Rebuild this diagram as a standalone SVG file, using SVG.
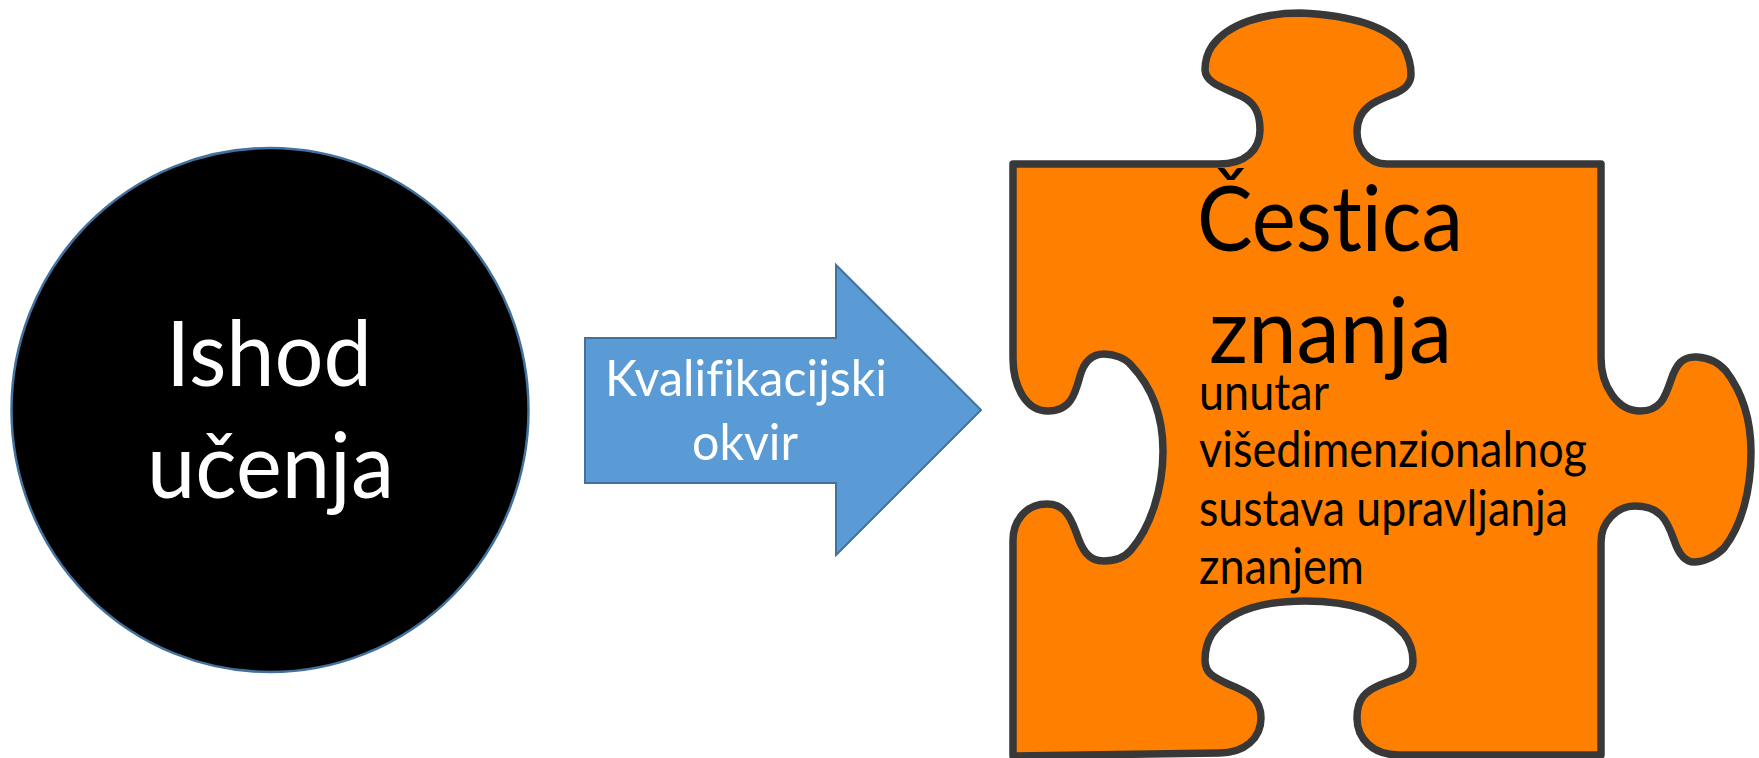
<svg xmlns="http://www.w3.org/2000/svg" width="1759" height="758" viewBox="0 0 1759 758">
<style>
text{font-family:Lato,"Open Sans","Liberation Sans",sans-serif;font-variant-ligatures:none}
.w{fill:#fff}.k{fill:#000}
.big{font-size:92px}.mid{font-size:50px}.piece{font-size:92px}.small{font-size:50px}
</style>
<rect width="1759" height="758" fill="#fff"/>
<g id="ishod">
<ellipse cx="270" cy="410" rx="258.500" ry="262" fill="#000" stroke="#41719c" stroke-width="2.5"/>
<text class="big w" x="166" y="386" textLength="206" lengthAdjust="spacingAndGlyphs">Ishod</text>
<text class="big w" x="147" y="498" textLength="247" lengthAdjust="spacingAndGlyphs">učenja</text>
</g>
<g id="connectors">
<g id="okvir">
<path d="M585 338H836V265L981 410L836 555V483H585Z" fill="#5b9bd5" stroke="#41719c" stroke-width="2"/>
<text class="mid w" x="605" y="396" textLength="282" lengthAdjust="spacingAndGlyphs">Kvalifikacijski</text>
<text class="mid w" x="692" y="460" textLength="106" lengthAdjust="spacingAndGlyphs">okvir</text>
</g>
</g>
<g id="cestica">
<path d="M1013 164H1219C1245 164 1260 150 1260 130C1260 112 1254 103 1243 97C1225 88 1206 84 1205 70C1205 60 1208 52 1212 46C1228 24 1262 13 1300 13C1345 15 1385 24 1404 47C1408 55 1411 65 1411 74C1411 84 1405 89 1396 93C1378 100 1357 106 1357 132C1357 148 1368 164 1387 164H1601V358C1601 385 1617 411 1640 411C1660 411 1665 398 1671 380C1676 365 1682 356 1697 357C1710 358 1720 364 1726 371C1742 392 1751 420 1751 452C1751 490 1742 525 1724 548C1715 557 1703 562 1694 562C1684 562 1678 552 1674 540C1667 520 1660 506 1635 506C1617 506 1601 522 1601 542V755H1399C1372 755 1357 738 1357 718C1357 698 1366 691 1380 685C1398 677 1413 678 1413 661C1413 650 1410 642 1404 634C1385 612 1350 601 1305 601C1260 601 1228 612 1212 634C1207 642 1205 650 1205 660C1205 673 1213 677 1228 684C1248 692 1261 698 1261 718C1261 738 1245 753 1219 753L1013 756V540C1013 522 1025 504 1047 504C1064 504 1070 516 1076 532C1082 550 1088 561 1104 561C1116 561 1125 557 1131 550C1150 528 1163 490 1163 451C1163 412 1150 385 1131 365C1125 358 1114 354 1104 354C1092 354 1084 362 1080 376C1075 395 1070 411 1048 411C1025 411 1013 385 1013 358Z" fill="#ff8000" stroke="#383838" stroke-width="7.500" stroke-linejoin="round"/>
<text class="piece k" x="1197" y="251" textLength="266" lengthAdjust="spacingAndGlyphs">Čestica</text>
<text class="piece k" x="1209" y="363" textLength="243" lengthAdjust="spacingAndGlyphs">znanja</text>
<text class="small k" x="1199" y="410" textLength="130" lengthAdjust="spacingAndGlyphs">unutar</text>
<text class="small k" x="1199" y="467" textLength="388" lengthAdjust="spacingAndGlyphs">višedimenzionalnog</text>
<text class="small k" x="1199" y="526" textLength="369" lengthAdjust="spacingAndGlyphs">sustava upravljanja</text>
<text class="small k" x="1199" y="584" textLength="165" lengthAdjust="spacingAndGlyphs">znanjem</text>
</g>
</svg>
